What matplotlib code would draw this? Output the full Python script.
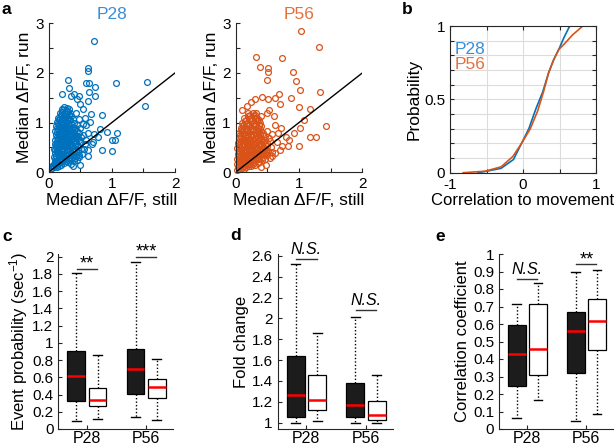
import numpy as np
import matplotlib
matplotlib.use('Agg')
import matplotlib.pyplot as plt

plt.rcParams['font.family'] = ['Liberation Sans', 'DejaVu Sans']
plt.rcParams['mathtext.fontset'] = 'custom'
plt.rcParams['mathtext.rm'] = 'Liberation Sans'
plt.rcParams['mathtext.default'] = 'regular'

BLUE = '#0072BD'
ORANGE = '#D95319'
BLUE_TXT = '#3a8ed6'
ORANGE_TXT = '#e5703f'
AX = '#262626'

# --- panel a: median dF/F (still, run) for each cell ---
p28_pts = [
    (0.05, 0.08), (0.07, 0.12), (0.09, 0.10), (0.11, 0.14), (0.13, 0.11), (0.16, 0.13), (0.19, 0.15),
    (0.08, 0.17), (0.12, 0.19), (0.15, 0.18), (0.20, 0.20), (0.24, 0.19), (0.10, 0.23), (0.14, 0.25),
    (0.18, 0.24), (0.22, 0.26), (0.27, 0.23), (0.31, 0.20), (0.35, 0.17), (0.40, 0.22), (0.45, 0.25),
    (0.09, 0.30), (0.12, 0.33), (0.16, 0.31), (0.20, 0.34), (0.25, 0.30), (0.29, 0.33), (0.33, 0.28),
    (0.38, 0.30), (0.43, 0.32), (0.49, 0.30), (0.53, 0.36), (0.10, 0.38), (0.13, 0.42), (0.17, 0.40),
    (0.21, 0.43), (0.26, 0.38), (0.30, 0.41), (0.35, 0.39), (0.40, 0.42), (0.46, 0.40), (0.09, 0.47),
    (0.12, 0.50), (0.15, 0.47), (0.19, 0.52), (0.23, 0.48), (0.27, 0.51), (0.32, 0.47), (0.36, 0.50),
    (0.41, 0.48), (0.46, 0.52), (0.56, 0.47), (0.63, 0.44), (0.10, 0.56), (0.14, 0.60), (0.18, 0.57),
    (0.22, 0.61), (0.26, 0.56), (0.30, 0.60), (0.34, 0.57), (0.38, 0.61), (0.43, 0.58), (0.50, 0.62),
    (0.57, 0.56), (0.11, 0.66), (0.15, 0.69), (0.19, 0.65), (0.23, 0.70), (0.27, 0.66), (0.31, 0.69),
    (0.35, 0.65), (0.40, 0.70), (0.45, 0.67), (0.52, 0.72), (0.60, 0.66), (0.12, 0.75), (0.16, 0.78),
    (0.20, 0.74), (0.24, 0.79), (0.28, 0.75), (0.32, 0.78), (0.37, 0.74), (0.42, 0.78), (0.48, 0.80),
    (0.55, 0.76), (0.11, 0.84), (0.15, 0.87), (0.19, 0.83), (0.23, 0.88), (0.27, 0.84), (0.31, 0.87),
    (0.36, 0.83), (0.41, 0.86), (0.50, 0.90), (0.12, 0.93), (0.16, 0.96), (0.20, 0.92), (0.24, 0.97),
    (0.28, 0.93), (0.33, 0.96), (0.38, 0.92), (0.45, 0.95), (0.13, 1.02), (0.17, 1.05), (0.21, 1.01),
    (0.25, 1.06), (0.29, 1.02), (0.34, 1.05), (0.40, 1.00), (0.15, 1.10), (0.19, 1.13), (0.23, 1.10),
    (0.27, 1.14), (0.31, 1.10), (0.36, 1.13), (0.18, 1.19), (0.22, 1.22), (0.26, 1.20), (0.30, 1.24),
    (0.34, 1.20), (0.21, 1.28), (0.25, 1.31), (0.29, 1.29), (0.33, 1.27),
    (0.06, 0.13), (0.10, 0.16), (0.14, 0.15), (0.17, 0.19), (0.22, 0.22), (0.28, 0.27), (0.32, 0.25),
    (0.36, 0.26), (0.42, 0.28), (0.11, 0.27), (0.15, 0.36), (0.19, 0.29), (0.23, 0.37), (0.28, 0.35),
    (0.32, 0.36), (0.37, 0.34), (0.42, 0.37), (0.48, 0.35), (0.11, 0.44), (0.15, 0.43), (0.20, 0.46),
    (0.25, 0.44), (0.29, 0.45), (0.34, 0.44), (0.38, 0.46), (0.44, 0.45), (0.51, 0.46), (0.12, 0.54),
    (0.16, 0.53), (0.21, 0.55), (0.25, 0.52), (0.29, 0.54), (0.33, 0.53), (0.37, 0.55), (0.42, 0.53),
    (0.13, 0.63), (0.17, 0.62), (0.21, 0.66), (0.25, 0.63), (0.29, 0.64), (0.33, 0.62), (0.37, 0.68),
    (0.42, 0.64), (0.48, 0.66), (0.13, 0.71), (0.18, 0.72), (0.22, 0.73), (0.26, 0.71), (0.30, 0.73),
    (0.34, 0.72), (0.39, 0.75), (0.45, 0.73), (0.14, 0.81), (0.18, 0.80), (0.22, 0.82), (0.26, 0.80),
    (0.30, 0.82), (0.34, 0.80), (0.39, 0.81), (0.45, 0.84), (0.14, 0.90), (0.18, 0.89), (0.22, 0.91),
    (0.26, 0.89), (0.30, 0.91), (0.35, 0.88), (0.42, 0.90), (0.15, 0.99), (0.19, 0.98), (0.23, 0.99),
    (0.27, 0.98), (0.31, 0.99), (0.36, 0.98), (0.17, 1.08), (0.21, 1.07), (0.25, 1.09), (0.29, 1.07),
    (0.33, 1.08), (0.38, 1.07), (0.20, 1.16), (0.24, 1.16), (0.28, 1.17), (0.32, 1.16), (0.23, 1.25),
    (0.27, 1.25), (0.31, 1.22),
    (0.72, 2.65), (0.62, 2.10), (0.62, 2.04), (0.60, 1.79), (0.64, 1.79), (1.06, 1.79), (1.55, 1.82),
    (1.53, 1.33), (0.31, 1.86), (0.32, 1.70), (0.22, 1.57), (0.49, 1.54), (0.40, 1.57), (0.64, 1.62),
    (0.73, 1.72), (0.74, 1.53), (0.63, 1.43), (0.84, 1.16), (0.81, 0.88), (0.93, 0.82), (1.08, 0.79),
    (1.00, 0.65), (1.05, 0.65), (1.00, 0.43), (0.85, 0.45), (0.68, 0.57), (0.79, 0.72), (0.55, 1.27),
    (0.67, 1.17), (0.58, 1.10), (0.50, 1.37), (0.45, 1.47), (0.36, 1.53), (0.44, 1.20), (0.48, 1.08),
    (0.60, 0.95), (0.62, 0.80), (0.70, 0.62), (0.55, 0.98), (0.66, 1.02), (0.72, 0.78), (0.62, 0.32),
    (0.50, 0.15), (0.38, 0.12),
]

p56_pts = [
    (0.02, 0.05), (0.04, 0.10), (0.07, 0.06), (0.10, 0.09), (0.13, 0.07), (0.17, 0.10), (0.21, 0.13),
    (0.25, 0.12), (0.30, 0.15), (0.03, 0.16), (0.06, 0.19), (0.09, 0.15), (0.12, 0.18), (0.16, 0.21),
    (0.20, 0.19), (0.24, 0.22), (0.28, 0.20), (0.33, 0.24), (0.37, 0.20), (0.42, 0.25), (0.03, 0.26),
    (0.06, 0.29), (0.09, 0.25), (0.13, 0.30), (0.17, 0.27), (0.21, 0.31), (0.25, 0.28), (0.30, 0.32),
    (0.34, 0.29), (0.39, 0.33), (0.44, 0.30), (0.50, 0.34), (0.55, 0.28), (0.04, 0.37), (0.07, 0.40),
    (0.11, 0.36), (0.15, 0.41), (0.19, 0.38), (0.23, 0.42), (0.27, 0.37), (0.31, 0.41), (0.36, 0.38),
    (0.41, 0.42), (0.46, 0.39), (0.52, 0.43), (0.58, 0.40), (0.03, 0.48), (0.06, 0.51), (0.10, 0.47),
    (0.14, 0.52), (0.18, 0.48), (0.22, 0.52), (0.26, 0.47), (0.30, 0.51), (0.35, 0.48), (0.40, 0.52),
    (0.45, 0.49), (0.50, 0.53), (0.56, 0.50), (0.04, 0.58), (0.08, 0.62), (0.12, 0.58), (0.16, 0.62),
    (0.20, 0.57), (0.24, 0.62), (0.28, 0.58), (0.33, 0.62), (0.38, 0.58), (0.43, 0.62), (0.49, 0.60),
    (0.55, 0.64), (0.05, 0.69), (0.09, 0.72), (0.13, 0.68), (0.17, 0.72), (0.21, 0.68), (0.25, 0.73),
    (0.30, 0.69), (0.35, 0.72), (0.40, 0.68), (0.46, 0.73), (0.53, 0.70), (0.06, 0.79), (0.10, 0.83),
    (0.14, 0.79), (0.18, 0.83), (0.22, 0.79), (0.27, 0.83), (0.32, 0.79), (0.37, 0.82), (0.43, 0.80),
    (0.50, 0.84), (0.08, 0.90), (0.12, 0.93), (0.16, 0.89), (0.20, 0.94), (0.25, 0.90), (0.30, 0.93),
    (0.35, 0.90), (0.41, 0.94), (0.10, 1.00), (0.15, 1.03), (0.19, 1.00), (0.24, 1.04), (0.29, 1.00),
    (0.34, 1.03), (0.39, 1.00), (0.14, 1.10), (0.19, 1.13), (0.24, 1.10), (0.29, 1.14), (0.34, 1.10),
    (0.40, 1.13), (0.20, 1.20), (0.27, 1.19), (0.33, 1.20),
    (0.05, 0.13), (0.09, 0.12), (0.14, 0.13), (0.19, 0.16), (0.23, 0.17), (0.27, 0.16), (0.35, 0.18),
    (0.05, 0.22), (0.10, 0.21), (0.14, 0.24), (0.18, 0.23), (0.22, 0.25), (0.27, 0.25), (0.31, 0.27),
    (0.37, 0.27), (0.47, 0.27), (0.05, 0.33), (0.09, 0.33), (0.13, 0.35), (0.17, 0.34), (0.21, 0.36),
    (0.25, 0.34), (0.29, 0.36), (0.33, 0.35), (0.38, 0.37), (0.44, 0.36), (0.50, 0.39), (0.05, 0.43),
    (0.09, 0.44), (0.13, 0.45), (0.17, 0.44), (0.21, 0.46), (0.25, 0.44), (0.29, 0.46), (0.33, 0.44),
    (0.38, 0.45), (0.43, 0.46), (0.48, 0.45), (0.06, 0.54), (0.10, 0.55), (0.14, 0.56), (0.18, 0.54),
    (0.22, 0.56), (0.26, 0.54), (0.31, 0.56), (0.36, 0.54), (0.41, 0.56), (0.47, 0.56), (0.06, 0.64),
    (0.10, 0.66), (0.14, 0.65), (0.18, 0.66), (0.22, 0.64), (0.27, 0.66), (0.31, 0.64), (0.36, 0.66),
    (0.41, 0.65), (0.47, 0.66), (0.07, 0.75), (0.11, 0.77), (0.15, 0.75), (0.20, 0.76), (0.24, 0.77),
    (0.28, 0.76), (0.33, 0.75), (0.38, 0.77), (0.44, 0.76), (0.09, 0.86), (0.13, 0.86), (0.18, 0.87),
    (0.23, 0.86), (0.27, 0.87), (0.32, 0.86), (0.38, 0.87), (0.12, 0.96), (0.17, 0.97), (0.22, 0.96),
    (0.27, 0.97), (0.32, 0.96), (0.37, 0.96), (0.16, 1.06), (0.21, 1.07), (0.26, 1.06), (0.31, 1.07),
    (0.37, 1.06), (0.23, 1.15), (0.30, 1.16),
    (1.04, 2.85), (1.32, 2.52), (0.33, 2.33), (0.38, 2.12), (0.74, 2.30), (0.51, 2.11), (0.51, 2.01),
    (0.50, 1.85), (0.90, 2.01), (0.95, 1.84), (1.02, 1.65), (0.88, 1.49), (0.70, 1.38), (0.68, 1.57),
    (0.63, 1.49), (0.42, 1.51), (0.31, 1.47), (0.52, 1.47), (0.18, 1.33), (0.10, 1.25), (0.24, 1.42),
    (1.33, 1.62), (1.17, 1.28), (1.00, 1.31), (1.43, 0.93), (1.27, 0.71), (1.17, 0.71), (1.00, 0.52),
    (1.08, 1.06), (1.02, 0.89), (0.93, 0.79), (0.85, 0.65), (0.74, 0.52), (0.83, 0.52), (0.63, 0.38),
    (0.57, 0.32), (0.67, 0.79), (0.72, 0.89), (0.79, 0.72), (0.53, 1.26), (0.49, 1.20), (0.60, 1.13),
    (0.62, 0.95), (0.66, 0.62), (0.58, 0.78), (0.48, 0.15), (0.40, 0.10), (0.70, 0.45),
]

# --- panel b: cumulative distribution of correlation to movement ---
cdf_p28_x = [-0.62, -0.50, -0.30, -0.13, -0.02, 0.08, 0.18, 0.27, 0.35, 0.42, 0.49, 0.56, 0.64]
cdf_p28_p = [0.0, 0.01, 0.03, 0.09, 0.20, 0.30, 0.44, 0.55, 0.68, 0.77, 0.84, 0.92, 1.0]
cdf_p56_x = [-0.82, -0.52, -0.30, -0.14, -0.02, 0.10, 0.20, 0.28, 0.35, 0.42, 0.49, 0.57, 0.68, 0.82]
cdf_p56_p = [0.0, 0.01, 0.04, 0.11, 0.20, 0.30, 0.42, 0.55, 0.68, 0.77, 0.84, 0.88, 0.94, 1.0]

# --- panels c-e: box stats, order = P28 still, P28 run, P56 still, P56 run ---
groups = ['P28', 'P56']

evt_med = [0.620, 0.335, 0.693, 0.483]
evt_q1 = [0.327, 0.269, 0.409, 0.359]
evt_q3 = [0.910, 0.479, 0.930, 0.576]
evt_lo = [0.093, 0.120, 0.144, 0.109]
evt_hi = [1.810, 0.864, 1.940, 0.814]
evt_sig = [(1, 1.86, '**'), (2, 2.00, '***')]

fold_med = [1.266, 1.220, 1.170, 1.074]
fold_q1 = [1.058, 1.120, 1.058, 1.026]
fold_q3 = [1.643, 1.460, 1.380, 1.210]
fold_lo = [1.000, 1.020, 1.000, 1.000]
fold_hi = [2.520, 1.860, 2.010, 1.460]
fold_sig = [(1, 2.57, 'N.S.'), (2, 2.08, 'N.S.')]

corr_med = [0.430, 0.459, 0.558, 0.620]
corr_q1 = [0.248, 0.306, 0.319, 0.453]
corr_q3 = [0.597, 0.717, 0.669, 0.744]
corr_lo = [0.063, 0.166, 0.046, 0.086]
corr_hi = [0.717, 0.835, 0.897, 0.908]
corr_sig = [(1, 0.857, 'N.S.'), (2, 0.943, '**')]


def style_axes(ax, box=False):
    for s in ['left', 'bottom', 'top', 'right']:
        ax.spines[s].set_color(AX)
        ax.spines[s].set_linewidth(0.8)
    if not box:
        ax.spines['top'].set_visible(False)
        ax.spines['right'].set_visible(False)
    ax.tick_params(direction='in', length=3, width=0.8, colors=AX, labelsize=11,
                   labelcolor='black', top=box, right=box)


def fig_ax(fig, l, r, t, b):
    W, H = 615.0, 446.0
    return fig.add_axes([l / W, 1 - b / H, (r - l) / W, (b - t) / H])


def scatter_panel(ax, pts, color, title, tcolor):
    pts = np.array(pts)
    ax.plot(pts[:, 0], pts[:, 1], 'o', ms=4.2, mfc='none', mec=color, mew=0.9, clip_on=False)
    ax.plot([0, 2], [0, 2], color='black', lw=1.0)
    ax.set_xlim(0, 2)
    ax.set_ylim(0, 3)
    ax.set_xticks([0, 0.5, 1, 1.5, 2])
    ax.set_xticklabels(['0', '', '1', '', '2'])
    ax.set_yticks([0, 0.5, 1, 1.5, 2, 2.5, 3])
    ax.set_yticklabels(['0', '', '1', '', '2', '', '3'])
    style_axes(ax)
    ax.set_xlabel('Median ΔF/F, still', fontsize=12.5, labelpad=1)
    ax.set_ylabel('Median ΔF/F, run', fontsize=12.5, labelpad=2)
    ax.set_title(title, color=tcolor, fontsize=12.5, pad=3)


def box_panel(ax, med, q1, q3, lo, hi, sig, ylim, yticks, ylabel):
    stats = []
    for i in range(4):
        stats.append(dict(med=med[i], q1=q1[i], q3=q3[i], whislo=lo[i], whishi=hi[i], fliers=[]))
    pos = [0.82, 1.18, 1.82, 2.18]
    art = ax.bxp(stats, positions=pos, widths=0.3, patch_artist=True, showfliers=False,
                 manage_ticks=False, capwidths=0.15,
                 boxprops=dict(edgecolor='black', linewidth=0.9),
                 medianprops=dict(color='#ff0000', linewidth=1.8),
                 whiskerprops=dict(color='black', linestyle=(0, (1, 1.5)), linewidth=1.0),
                 capprops=dict(color='black', linewidth=1.0))
    for i, b in enumerate(art['boxes']):
        b.set_facecolor('#1c1c1c' if i % 2 == 0 else 'white')
    ax.set_xlim(0.52, 2.45)
    ax.set_ylim(*ylim)
    ax.set_xticks([1, 2])
    ax.set_xticklabels(groups)
    ax.set_yticks(yticks)
    ax.set_yticklabels([('%g' % v) for v in yticks])
    style_axes(ax)
    ax.tick_params(axis='x', labelsize=11.5, pad=1.5)
    ax.set_ylabel(ylabel, fontsize=12, labelpad=2)
    for x, y, s in sig:
        ax.plot([x - 0.17, x + 0.17], [y, y], color='#333333', lw=1.0, clip_on=False)
        if s.startswith('N'):
            ax.annotate(s, (x, y), xytext=(0, 1.5), textcoords='offset points', ha='center',
                        va='bottom', fontsize=11.5, style='italic', annotation_clip=False)
        else:
            ax.annotate(s, (x, y), xytext=(0, -3), textcoords='offset points', ha='center',
                        va='bottom', fontsize=13, annotation_clip=False)


def main():
    fig = plt.figure(figsize=(6.15, 4.46), dpi=100)

    ax1 = fig_ax(fig, 48.5, 175.0, 23.3, 172.3)
    scatter_panel(ax1, p28_pts, BLUE, 'P28', BLUE_TXT)
    ax2 = fig_ax(fig, 235.5, 362.3, 23.3, 172.3)
    scatter_panel(ax2, p56_pts, ORANGE, 'P56', ORANGE_TXT)

    # cumulative distribution
    axb = fig_ax(fig, 450.0, 596.0, 26.0, 172.7)
    axb.plot(cdf_p28_x, cdf_p28_p, color=BLUE, lw=1.2)
    axb.plot(cdf_p56_x, cdf_p56_p, color=ORANGE, lw=1.2)
    axb.set_xlim(-1, 1)
    axb.set_ylim(0, 1)
    axb.set_xticks([-1, -0.5, 0, 0.5, 1])
    axb.set_xticklabels(['-1', '', '0', '', '1'])
    yt = np.round(np.arange(0, 1.01, 0.1), 1)
    axb.set_yticks(yt)
    axb.set_yticklabels(['0' if v == 0 else ('0.5' if v == 0.5 else ('1' if v == 1 else '')) for v in yt])
    axb.grid(True, color='#dcdcdc', lw=0.8)
    axb.set_axisbelow(True)
    style_axes(axb, box=True)
    axb.set_xlabel('Correlation to movement', fontsize=12, labelpad=1)
    axb.set_ylabel('Probability', fontsize=12.5, labelpad=2)
    axb.text(0.03, 0.84, 'P28', color=BLUE_TXT, fontsize=12.5, transform=axb.transAxes, va='center')
    axb.text(0.03, 0.74, 'P56', color=ORANGE_TXT, fontsize=12.5, transform=axb.transAxes, va='center')

    axc = fig_ax(fig, 58.3, 173.0, 254.0, 429.0)
    box_panel(axc, evt_med, evt_q1, evt_q3, evt_lo, evt_hi, evt_sig, (0, 2.03),
              [0, 0.2, 0.4, 0.6, 0.8, 1, 1.2, 1.4, 1.6, 1.8, 2], 'Event probability (sec$^{-1}$)')
    axd = fig_ax(fig, 277.7, 393.0, 254.0, 429.3)
    box_panel(axd, fold_med, fold_q1, fold_q3, fold_lo, fold_hi, fold_sig, (0.937, 2.617),
              [1, 1.2, 1.4, 1.6, 1.8, 2, 2.2, 2.4, 2.6], 'Fold change')
    axe = fig_ax(fig, 499.0, 613.0, 254.0, 429.0)
    box_panel(axe, corr_med, corr_q1, corr_q3, corr_lo, corr_hi, corr_sig, (0, 1.0),
              [0, 0.1, 0.2, 0.3, 0.4, 0.5, 0.6, 0.7, 0.8, 0.9, 1], 'Correlation coefficient')

    for s, x, y in [('a', 2, 14), ('b', 402, 14), ('c', 2, 241), ('d', 230, 240), ('e', 435, 241)]:
        fig.text(x / 615.0, 1 - y / 446.0, s, fontsize=12.5, fontweight='bold', va='baseline')

    fig.savefig('out.png', dpi=100)


if __name__ == '__main__':
    main()
